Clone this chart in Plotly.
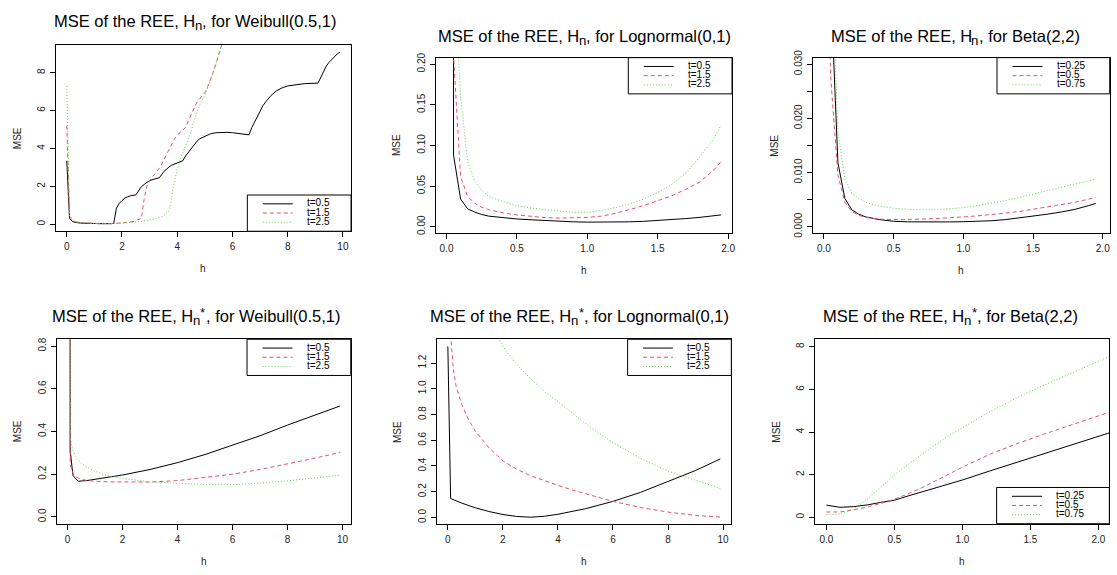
import plotly.graph_objects as go

W, H = 1117, 575

# ---------------- data ----------------
# Panel 1: H_n, Weibull(0.5,1)
wei_hn_h_t05 = [0, 0.1, 0.2, 0.3, 0.5, 0.8, 1.2, 1.6, 1.7, 1.8, 1.9, 2.0, 2.1, 2.2, 2.3, 2.5, 2.6, 2.7, 2.8, 2.9,
                3.0, 3.2, 3.35, 3.5, 3.6, 3.7, 3.8, 4.0, 4.2, 4.3, 4.4, 4.5, 4.6, 4.7, 4.8, 5.0, 5.2, 5.4, 5.6,
                5.8, 6.0, 6.2, 6.4, 6.6, 6.7, 6.8, 6.9, 7.0, 7.1, 7.2, 7.4, 7.6, 7.8, 8.0, 8.3, 8.6, 9.1, 9.2,
                9.3, 9.4, 9.5, 9.6, 9.7, 9.8, 9.9]
wei_hn_t05 = [3.35, 0.3, 0.15, 0.1, 0.06, 0.04, 0.03, 0.03, 0.05, 0.85, 1.1, 1.25, 1.38, 1.45, 1.5, 1.55, 1.8, 1.98,
              2.1, 2.2, 2.3, 2.4, 2.45, 2.75, 2.9, 3.02, 3.12, 3.25, 3.35, 3.6, 3.8, 4.0, 4.2, 4.35, 4.5, 4.65,
              4.77, 4.83, 4.85, 4.85, 4.83, 4.8, 4.76, 4.72, 5.1, 5.4, 5.7, 6.0, 6.25, 6.45, 6.8, 7.05, 7.2, 7.3,
              7.38, 7.42, 7.45, 7.75, 8.05, 8.35, 8.55, 8.72, 8.87, 9.0, 9.08]
wei_hn_h_t15 = [0, 0.1, 0.2, 0.3, 0.5, 0.8, 1.2, 1.6, 2.0, 2.2, 2.4, 2.6, 2.7, 2.8, 2.9, 3.0, 3.1, 3.2, 3.3, 3.4,
                3.5, 3.6, 3.7, 3.8, 3.9, 4.0, 4.1, 4.2, 4.3, 4.4, 4.5, 4.6, 4.7, 4.8, 4.9, 5.0, 5.1, 5.2, 5.3,
                5.4, 5.5, 5.6, 5.7]
wei_hn_t15 = [5.2, 0.4, 0.2, 0.13, 0.08, 0.05, 0.03, 0.03, 0.05, 0.09, 0.14, 0.22, 0.3, 1.3, 2.0, 2.3, 2.5, 2.65,
              2.85, 3.05, 3.35, 3.65, 3.95, 4.25, 4.5, 4.7, 4.85, 4.95, 5.1, 5.45, 5.8, 6.15, 6.4, 6.6, 6.75,
              6.95, 7.25, 7.6, 8.0, 8.45, 8.95, 9.45, 9.9]
wei_hn_h_t25 = [0, 0.1, 0.2, 0.3, 0.5, 0.8, 1.2, 1.6, 2.0, 2.4, 2.8, 3.2, 3.5, 3.7, 3.8, 3.9, 4.0, 4.1, 4.2, 4.3,
                4.4, 4.5, 4.6, 4.7, 4.8, 4.9, 5.0, 5.1, 5.2, 5.3, 5.4, 5.5, 5.6, 5.7]
wei_hn_t25 = [7.3, 0.45, 0.25, 0.15, 0.09, 0.05, 0.03, 0.03, 0.05, 0.1, 0.17, 0.28, 0.45, 0.7, 1.4, 2.3, 2.9, 3.4,
              3.75, 4.1, 4.45, 4.9, 5.4, 5.85, 6.25, 6.55, 6.8, 7.2, 7.6, 8.0, 8.45, 8.95, 9.45, 9.9]

# Panel 2: H_n, Lognormal(0,1)
log_hn_h = [0, 0.05, 0.1, 0.15, 0.2, 0.25, 0.3, 0.4, 0.5, 0.6, 0.7, 0.8, 0.9, 1.0, 1.1, 1.2, 1.3, 1.4, 1.5,
            1.6, 1.7, 1.8, 1.9, 1.95]
log_hn_t05 = [50, 0.088, 0.034, 0.022, 0.018, 0.015, 0.013, 0.011, 0.0095, 0.0085, 0.0075, 0.0066, 0.006,
              0.0056, 0.0055, 0.0057, 0.006, 0.0066, 0.0075, 0.0086, 0.01, 0.0115, 0.0135, 0.0145]
log_hn_t15 = [80, 0.21, 0.062, 0.037, 0.029, 0.024, 0.021, 0.017, 0.0145, 0.0125, 0.0112, 0.0106, 0.0107,
              0.0115, 0.013, 0.0165, 0.021, 0.026, 0.032, 0.038, 0.046, 0.055, 0.07, 0.08]
log_hn_t25 = [100, 0.32, 0.16, 0.08, 0.056, 0.045, 0.037, 0.031, 0.026, 0.023, 0.021, 0.019, 0.0178, 0.0175,
              0.02, 0.0235, 0.028, 0.034, 0.042, 0.052, 0.066, 0.086, 0.109, 0.125]

# Panel 3: H_n, Beta(2,2)
beta_hn_h = [0, 0.05, 0.1, 0.15, 0.2, 0.25, 0.3, 0.4, 0.5, 0.6, 0.7, 0.8, 0.9, 1.0, 1.1, 1.2, 1.3, 1.4, 1.5,
             1.6, 1.7, 1.8, 1.9, 1.95]
beta_hn_t025 = [None, 0.043, 0.0118, 0.0052, 0.0031, 0.0023, 0.0018, 0.0013, 0.001, 0.0009, 0.00085, 0.00085,
                0.00088, 0.00092, 0.001, 0.0011, 0.0013, 0.0016, 0.0019, 0.0023, 0.0027, 0.0032, 0.0039, 0.0043]
beta_hn_t05 = [0.06, 0.027, 0.0095, 0.0045, 0.0028, 0.0021, 0.0017, 0.0014, 0.0013, 0.0013, 0.0014, 0.0015,
               0.0016, 0.0018, 0.002, 0.0022, 0.0025, 0.0028, 0.0032, 0.0036, 0.004, 0.0045, 0.0051, 0.0054]
beta_hn_t075 = [None, 0.053, 0.0175, 0.0088, 0.0062, 0.0052, 0.0045, 0.0038, 0.0034, 0.0032, 0.0031, 0.0031,
                0.0033, 0.0035, 0.0039, 0.0043, 0.0048, 0.0054, 0.006, 0.0066, 0.0072, 0.0078, 0.0085, 0.0088]

# Panel 4: H*_n, Weibull(0.5,1)
wei_hs_h = [0, 0.1, 0.2, 0.3, 0.4, 0.5, 0.7, 1.0, 1.5, 2, 3, 4, 5, 6, 7, 8, 9, 9.9]
wei_hs_t05 = [20, 0.31, 0.195, 0.178, 0.167, 0.167, 0.17, 0.176, 0.186, 0.196, 0.222, 0.254, 0.292, 0.335,
              0.38, 0.43, 0.475, 0.519]
wei_hs_t15 = [20, 0.245, 0.205, 0.188, 0.181, 0.176, 0.171, 0.167, 0.164, 0.163, 0.163, 0.17, 0.184, 0.2,
              0.222, 0.248, 0.275, 0.302]
wei_hs_t25 = [20, 0.37, 0.31, 0.283, 0.265, 0.252, 0.233, 0.213, 0.192, 0.18, 0.164, 0.156, 0.151, 0.151,
              0.158, 0.169, 0.182, 0.195]

# Panel 5: H*_n, Lognormal(0,1)
log_hs_h_t05 = [0, 0.1, 0.5, 1, 1.5, 2, 2.5, 3, 3.5, 4, 5, 6, 7, 8, 9, 9.9]
log_hs_t05 = [1.33, 0.147, 0.112, 0.075, 0.046, 0.023, 0.008, 0.002, 0.009, 0.025, 0.068, 0.125, 0.195, 0.277,
              0.365, 0.455]
log_hs_h_t15 = [0, 0.1, 0.2, 0.3, 0.5, 0.75, 1.0, 1.5, 2, 2.5, 3, 3.5, 4, 4.5, 5, 6, 7, 8, 9, 9.9]
log_hs_t15 = [3.0, 1.42, 1.15, 1.02, 0.88, 0.76, 0.67, 0.54, 0.44, 0.375, 0.325, 0.285, 0.25, 0.215, 0.185,
              0.125, 0.078, 0.042, 0.016, 0.003]
log_hs_h_t25 = [1.0, 1.5, 2, 2.5, 3, 3.5, 4, 5, 6, 7, 8, 9, 9.9]
log_hs_t25 = [1.75, 1.52, 1.33, 1.19, 1.08, 0.98, 0.9, 0.73, 0.58, 0.46, 0.36, 0.29, 0.225]

# Panel 6: H*_n, Beta(2,2)
beta_hs_h = [0, 0.1, 0.2, 0.3, 0.4, 0.5, 0.6, 0.7, 0.8, 0.9, 1.0, 1.2, 1.4, 1.6, 1.8, 2.0, 2.1]
beta_hs_t025 = [0.57, 0.47, 0.5, 0.58, 0.7, 0.8, 1.0, 1.18, 1.37, 1.56, 1.75, 2.17, 2.58, 3.0, 3.42, 3.81, 4.0]
beta_hs_t05 = [0.25, 0.25, 0.35, 0.48, 0.65, 0.85, 1.1, 1.38, 1.7, 2.02, 2.35, 2.95, 3.45, 3.9, 4.33, 4.76, 4.97]
beta_hs_t075 = [0.12, 0.16, 0.38, 0.85, 1.42, 1.98, 2.47, 2.95, 3.4, 3.82, 4.2, 4.95, 5.6, 6.2, 6.75, 7.3, 7.6]

labels_weibull = ["t=0.5", "t=1.5", "t=2.5"]
labels_lognormal = ["t=0.5", "t=1.5", "t=2.5"]
labels_beta = ["t=0.25", "t=0.5", "t=0.75"]

# titles: "MSE of the REE, H" + sub "n" (+ sup "*") + ", for <dist>"
title_head = "MSE of the REE, H"
title_sub = "n"
title_sup = "*"
title_dists = ["Weibull(0.5,1)", "Lognormal(0,1)", "Beta(2,2)", "Weibull(0.5,1)", "Lognormal(0,1)", "Beta(2,2)"]
title_star = [False, False, False, True, True, True]

# ---------------- style ----------------
COLORS = ["#000000", "#DF536B", "#61D04F"]
DASHES = ["solid", "4px,3px", "1px,2px"]
FONT = "Liberation Sans, Arial, Helvetica, sans-serif"
TITLE_SIZE = 16.5
SMALL = 0.8

# Liberation Sans (Arial-metric) advance widths, 1/1000 em
CW = {" ": 278, "M": 833, "S": 667, "E": 667, "o": 556, "f": 278, "t": 278, "h": 556, "e": 556, "R": 722,
      ",": 278, "H": 722, "n": 556, "r": 333, "W": 944, "i": 222, "b": 556, "u": 556, "l": 222, "(": 333,
      ")": 333, ".": 278, "L": 556, "g": 556, "m": 833, "a": 556, "B": 667, "*": 389}
for d in "0123456789":
    CW[d] = 556


def text_em(s):
    return sum(CW.get(c, 556) for c in s) / 1000.0


series = [
    [(wei_hn_h_t05, wei_hn_t05), (wei_hn_h_t15, wei_hn_t15), (wei_hn_h_t25, wei_hn_t25)],
    [(log_hn_h, log_hn_t05), (log_hn_h, log_hn_t15), (log_hn_h, log_hn_t25)],
    [(beta_hn_h, beta_hn_t025), (beta_hn_h, beta_hn_t05), (beta_hn_h, beta_hn_t075)],
    [(wei_hs_h, wei_hs_t05), (wei_hs_h, wei_hs_t15), (wei_hs_h, wei_hs_t25)],
    [(log_hs_h_t05, log_hs_t05), (log_hs_h_t15, log_hs_t15), (log_hs_h_t25, log_hs_t25)],
    [(beta_hs_h, beta_hs_t025), (beta_hs_h, beta_hs_t05), (beta_hs_h, beta_hs_t075)],
]
legend_labels = [labels_weibull, labels_lognormal, labels_beta, labels_weibull, labels_lognormal, labels_beta]

# layout of panels (pixel boxes: left, top, right, bottom); title = (center x, baseline y)
panels = [
    dict(box=(56, 38, 352, 228), xr=(-0.396, 10.296), yr=(-0.37, 9.45),
         xt=[0, 2, 4, 6, 8, 10], xtt=None, yt=[0, 2, 4, 6, 8], ytt=None,
         leg="br", legw=104, title_xy=(196, 19.2)),
    dict(box=(436.7, 50.7, 734, 230), xr=(-0.078, 2.028), yr=(-0.008, 0.208),
         xt=[0, 0.5, 1, 1.5, 2], xtt=["0.0", "0.5", "1.0", "1.5", "2.0"],
         yt=[0, 0.05, 0.1, 0.15, 0.2], ytt=["0.00", "0.05", "0.10", "0.15", "0.20"],
         leg="tr", legw=104, title_xy=(585.8, 34.2)),
    dict(box=(815.3, 50.7, 1112.7, 230), xr=(-0.078, 2.05), yr=(-0.0012, 0.0312),
         xt=[0, 0.5, 1, 1.5, 2], xtt=["0.0", "0.5", "1.0", "1.5", "2.0"],
         yt=[0, 0.005, 0.01, 0.015, 0.02, 0.025, 0.03],
         ytt=["0.000", "", "0.010", "", "0.020", "", "0.030"],
         leg="tr", legw=113, title_xy=(957.5, 34.2)),
    dict(box=(56.7, 338.3, 351.7, 526.7), xr=(-0.396, 10.296), yr=(-0.032, 0.832),
         xt=[0, 2, 4, 6, 8, 10], xtt=None, yt=[0, 0.2, 0.4, 0.6, 0.8],
         ytt=["0.0", "0.2", "0.4", "0.6", "0.8"],
         leg="tr", legw=104, title_xy=(196.7, 320.3)),
    dict(box=(438.3, 338.3, 733.3, 527.3), xr=(-0.39, 10.3), yr=(-0.053, 1.385),
         xt=[0, 2, 4, 6, 8, 10], xtt=None, yt=[0, 0.2, 0.4, 0.6, 0.8, 1.0, 1.2],
         ytt=["0.0", "0.2", "0.4", "0.6", "0.8", "1.0", "1.2"],
         leg="tr", legw=104, title_xy=(581, 320.5)),
    dict(box=(817.3, 338.3, 1112.3, 526.7), xr=(-0.083, 2.08), yr=(-0.3, 8.35),
         xt=[0, 0.5, 1, 1.5, 2], xtt=["0.0", "0.5", "1.0", "1.5", "2.0"],
         yt=[0, 2, 4, 6, 8], ytt=None,
         leg="br", legw=113, title_xy=(953.3, 320.5)),
]


def fx(px):
    return px / W


def fy(py):
    return 1 - py / H


def text_at(x_left, baseline, text, size, color="black"):
    # place text so its left edge is at x_left and its baseline at `baseline` (pixels)
    return dict(text=text, x=fx(x_left), y=fy(baseline - 0.3465 * size), xref="paper", yref="paper",
                xanchor="left", yanchor="middle", showarrow=False, borderpad=0, borderwidth=0,
                font=dict(size=size, family=FONT, color=color))


fig = go.Figure()
layout = dict(width=W, height=H, margin=dict(l=0, r=0, t=0, b=0, pad=0),
              paper_bgcolor="white", plot_bgcolor="white", showlegend=False,
              font=dict(family=FONT, color="black", size=10))
annotations = []
shapes = []

for i, (p, ser, labs) in enumerate(zip(panels, series, legend_labels)):
    n = i + 1
    xa = "x" if n == 1 else f"x{n}"
    ya = "y" if n == 1 else f"y{n}"
    for k, (xs, ys) in enumerate(ser):
        fig.add_trace(go.Scatter(x=xs, y=ys, mode="lines", xaxis=xa, yaxis=ya, showlegend=False,
                                 line=dict(color=COLORS[k], width=1, dash=DASHES[k]),
                                 connectgaps=False, hoverinfo="skip"))
    l, t, r, b = p["box"]
    common = dict(showline=True, linecolor="black", linewidth=1, mirror=True,
                  ticks="outside", ticklen=5, tickwidth=1, tickcolor="black",
                  showgrid=False, zeroline=False, tickfont=dict(size=10, family=FONT, color="#222"))
    xd = dict(common, domain=[fx(l), fx(r)], range=list(p["xr"]), anchor=ya,
              tickmode="array", tickvals=p["xt"], ticklabelstandoff=1)
    if p["xtt"]:
        xd["ticktext"] = p["xtt"]
    yd = dict(common, domain=[fy(b), fy(t)], range=list(p["yr"]), anchor=xa,
              tickmode="array", tickvals=p["yt"], tickangle=-90, ticklabelstandoff=1)
    if p["ytt"]:
        yd["ticktext"] = p["ytt"]
    layout["xaxis" if n == 1 else f"xaxis{n}"] = xd
    layout["yaxis" if n == 1 else f"yaxis{n}"] = yd

    # title: H with subscript n (and superscript * after it)
    cx, base = p["title_xy"]
    f = TITLE_SIZE
    fs = round(f * SMALL, 1)
    tail = ", for " + title_dists[i]
    w_head = text_em(title_head) * f
    w_sub = text_em(title_sub) * fs
    w_sup = (text_em(title_sup) * fs + 0.6) if title_star[i] else 0
    w_tail = text_em(tail) * f
    x0 = cx - (w_head + w_sub + w_sup + w_tail) / 2
    annotations.append(text_at(x0, base, title_head, f))
    annotations.append(text_at(x0 + w_head, base + 3.2, title_sub, fs))
    if title_star[i]:
        annotations.append(text_at(x0 + w_head + w_sub + 0.3, base - 5.0, title_sup, fs))
    annotations.append(text_at(x0 + w_head + w_sub + w_sup, base, tail, f))

    # axis titles
    annotations.append(dict(text="h", x=fx((l + r) / 2), y=fy(b + 38.5), xref="paper", yref="paper",
                            xanchor="center", yanchor="middle", showarrow=False,
                            font=dict(size=10, family=FONT, color="#222")))
    annotations.append(dict(text="MSE", x=fx(l - 39), y=fy((t + b) / 2), xref="paper", yref="paper",
                            xanchor="center", yanchor="middle", showarrow=False, textangle=-90,
                            font=dict(size=10, family=FONT, color="#222")))

    # legend (R style, inside corner)
    lw, lh = p["legw"], 37
    lx1 = r
    lx0 = r - lw
    ly0 = t if p["leg"] == "tr" else b - lh
    shapes.append(dict(type="rect", xref="paper", yref="paper", x0=fx(lx0), x1=fx(lx1),
                       y0=fy(ly0), y1=fy(ly0 + lh), line=dict(color="black", width=1),
                       fillcolor="white", layer="above"))
    for k in range(3):
        rowy = ly0 + 9 + k * 9.4
        shapes.append(dict(type="line", xref="paper", yref="paper",
                           x0=fx(lx0 + 15.5), x1=fx(lx0 + 45.5), y0=fy(rowy), y1=fy(rowy),
                           line=dict(color=COLORS[k], width=1, dash=DASHES[k]), layer="above"))
        annotations.append(dict(text=labs[k], x=fx(lx0 + 58), y=fy(rowy - 1), xref="paper", yref="paper",
                                xanchor="left", yanchor="middle", showarrow=False,
                                font=dict(size=10, family=FONT, color="black")))

layout["annotations"] = annotations
layout["shapes"] = shapes
fig.update_layout(**layout)
fig.write_html("out.html", config={"displayModeBar": False},
               post_script="document.body.style.margin='0px';document.body.style.overflow='hidden';")
